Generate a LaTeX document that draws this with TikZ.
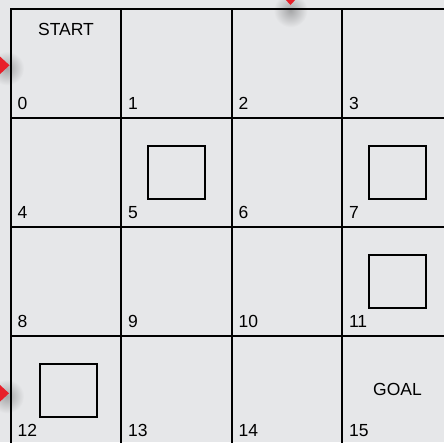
\documentclass[tikz,border=0pt]{standalone}
\usepackage{fontspec}
\setmainfont{Liberation Sans}
\usetikzlibrary{positioning}
\definecolor{paper}{HTML}{E6E7E9}
\definecolor{flag}{HTML}{E8202A}

\begin{document}
\begin{tikzpicture}[x=1pt,y=-1pt,font=\fontsize{17.5}{20}\selectfont,
        cell/.style={rectangle,draw=black,line width=2pt,inner sep=0pt,outer sep=0pt,
                     minimum width=110.5pt,minimum height=109pt},
        wall/.style={rectangle,draw=black,line width=2pt,inner sep=0pt,
                     minimum width=57.5pt,minimum height=53pt},
        num/.style={anchor=base west,inner sep=0pt},
        glow/.style={inner color=black!28!paper,outer color=paper}]
        \useasboundingbox[fill=paper] (0,0) rectangle (444,442);
        % grid cells
        \foreach \i in {0,...,15}{
          \pgfmathtruncatemacro\col{mod(\i,4)}
          \pgfmathtruncatemacro\row{div(\i,4)}
          \coordinate (p\i) at (66+110.5*\col,63.3+109*\row);
        }
        % entry markers
        \shade[glow] ([xshift=-59pt,yshift=-5pt]p0) circle (17pt);
        \shade[glow] ([xshift=-59pt,yshift=-6pt]p12) circle (17pt);
        \shade[glow] ([xshift=3.5pt,yshift=53pt]p2) circle (17pt);
        \fill[flag] ([xshift=-56.5pt,yshift=-2pt]p0) -- ++(-13,-12) -- ++(0,24) -- cycle;
        \fill[flag] ([xshift=-57pt,yshift=-3pt]p12) -- ++(-13,-12) -- ++(0,24) -- cycle;
        \fill[flag] ([xshift=3.5pt,yshift=58.3pt]p2) -- ++(-12,-13) -- ++(24,0) -- cycle;
        \foreach \i in {0,...,15}{
          \node[cell] (c\i) at (p\i) {};
          \node[num] (n\i) at ([xshift=6.6pt,yshift=8.5pt]c\i.south west) {\i};
        }
        % obstacles
        \node[wall] (w5) at (c5) {};
        \node[wall] (w7) at (c7) {};
        \node[wall] (w11) at (c11) {};
        \node[wall,xshift=2.5pt] (w12) at (c12) {};
        \node[anchor=base] (start) at ([yshift=-27pt]c0.north) {START};
        \node[anchor=base] (goal) at ([yshift=-59.3pt]c15.north) {GOAL};
      \end{tikzpicture}
\end{document}
